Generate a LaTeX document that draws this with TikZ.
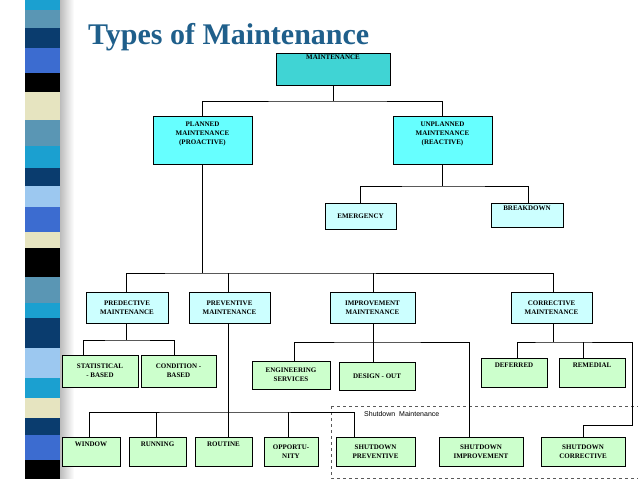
\documentclass[tikz,border=0pt]{standalone}
\usepackage{fontspec}
\setmainfont{Liberation Serif}
\newfontfamily\sansf{Liberation Sans}
\begin{document}
\begin{tikzpicture}[x=1pt,y=-1pt,
  box/.style={draw=black,line width=0.7pt,inner sep=1pt,align=center,font=\bfseries\fontsize{7}{9}\selectfont},
  conn/.style={line width=0.8pt}]
\definecolor{titleblue}{HTML}{1F5F8B}
\definecolor{tealc}{HTML}{40D4D4}
\definecolor{cyanc}{HTML}{66FFFF}
\definecolor{lcyan}{HTML}{CCFFFF}
\definecolor{lgreen}{HTML}{CCFFCC}
\useasboundingbox (0,0) rectangle (638,479);
\fill[white] (0,0) rectangle (638,479);
% stripe shadow
\shade[left color=gray!60,right color=white] (58,0) rectangle (74,479);
\foreach \a/\b/\c in {0/10/1BA0D0,10/28/5A96B4,28/48/0A3C6E,48/73/3C6CD0,73/92/000000,92/120/E6E4C0,120/146/5A96B4,146/168/1BA0D0,168/186/0A3C6E,186/207/9CC8F0,207/232/3C6CD0,232/248/E6E4C0,248/277/000000,277/303/5A96B4,303/318/1BA0D0,318/348/0A3C6E,348/378/9CC8F0,378/398/1BA0D0,398/418/E6E4C0,418/435/0A3C6E,435/460/3C6CD0,460/479/000000}{
  \definecolor{bandc}{HTML}{\c}
  \fill[bandc] (25,\a) rectangle (60,\b);
}
\node[anchor=base west,text=titleblue,font=\bfseries\fontsize{30}{32}\selectfont,inner sep=0pt] (title) at (88,45) {Types of Maintenance};
\newcommand\bx[7]{\node[box,fill=#6,minimum width={(#4-#2)*1pt},minimum height={(#5-#3)*1pt}] (#1) at ({(#2+#4)/2},{(#3+#5)/2}) {#7};}
\bx{m}{276}{53}{390}{85}{tealc}{MAINTENANCE\\[14pt]}
\bx{pl}{153}{116}{252}{164}{cyanc}{PLANNED\\MAINTENANCE\\(PROACTIVE)\\[4pt]}
\bx{un}{393}{116}{492}{164}{cyanc}{UNPLANNED\\MAINTENANCE\\(REACTIVE)\\[4pt]}
\bx{em}{325}{203}{396}{229}{lcyan}{EMERGENCY}
\bx{bd}{491}{203}{563}{227}{lcyan}{BREAKDOWN\\[4pt]}
\bx{pd}{86}{292}{168}{323}{lcyan}{PREDECTIVE\\MAINTENANCE}
\bx{pv}{189}{292}{270}{323}{lcyan}{PREVENTIVE\\MAINTENANCE}
\bx{im}{330}{292}{415}{323}{lcyan}{IMPROVEMENT\\MAINTENANCE}
\bx{co}{511}{292}{592}{323}{lcyan}{CORRECTIVE\\MAINTENANCE}
\bx{st}{62}{355}{138}{387}{lgreen}{STATISTICAL\\- BASED}
\bx{cb}{141}{355}{216}{387}{lgreen}{CONDITION -\\BASED}
\bx{es}{252}{361}{330}{389}{lgreen}{ENGINEERING\\SERVICES}
\bx{dout}{339}{362}{415}{390}{lgreen}{DESIGN - OUT}
\bx{df}{481}{358}{547}{387}{lgreen}{DEFERRED\\[6pt]}
\bx{rm}{559}{358}{625}{387}{lgreen}{REMEDIAL\\[6pt]}
\bx{wi}{62}{437}{120}{466}{lgreen}{WINDOW\\[5pt]}
\bx{ru}{129}{437}{186}{466}{lgreen}{RUNNING\\[5pt]}
\bx{ro}{195}{437}{252}{466}{lgreen}{ROUTINE\\[5pt]}
\bx{op}{264}{437}{318}{466}{lgreen}{OPPORTU-\\NITY}
\bx{sp}{336}{437}{415}{466}{lgreen}{SHUTDOWN\\PREVENTIVE}
\bx{si}{439}{437}{523}{466}{lgreen}{SHUTDOWN\\IMPROVEMENT}
\bx{sc}{541}{437}{625}{466}{lgreen}{SHUTDOWN\\CORRECTIVE}
% dashed frame
\draw[dashed,gray!70!black,line width=0.5pt] (331,406) -- (638,406) (331,406) -- (331,478) -- (638,478);
\node[anchor=west,font=\sansf\fontsize{7}{8}\selectfont,inner sep=0pt] (sl) at (364,414) {Shutdown\ \ Maintenance};
% connectors
\coordinate (j1) at (m.south |- 0,101);
\draw[conn] (m.south) -- (j1);
\draw[conn] (pl.north) |- (j1) -| (un.north);
\coordinate (j2) at (un.south |- 0,186);
\draw[conn] (un.south) -- (j2);
\draw[conn] (em.north -| 360,0) |- (j2) -| (bd.north -| 528,0);
\coordinate (j3) at (pl.south |- 0,273);
\draw[conn] (pl.south) -- (j3);
\draw[conn] (pd.north -| 126,0) |- (j3) -| (co.north -| 553,0);
\draw[conn] (pv.north -| 228,0) -- (228,273);
\draw[conn] (im.north -| 373,0) -- (373,273);
% predective
\draw[conn] (pd.south -| 126,0) -- (126,340);
\draw[conn] (st.north -| 83,0) |- (126,340) -| (cb.north -| 174,0);
% improvement
\draw[conn] (im.south -| 373,0) -- (dout.north -| 373,0);
\draw[conn] (es.north -| 294,0) |- (373,342) -| (si.north -| 469,0);
% corrective
\draw[conn] (co.south -| 553,0) -- (553,342);
\draw[conn] (df.north -| 517,0) |- (553,342) -- (632,342) -- (632,425) -| (sc.north -| 583,0);
\draw[conn] (rm.north -| 583,0) -- (583,342);
% preventive
\draw[conn] (pv.south -| 228,0) -- (ro.north -| 228,0);
\draw[conn] (wi.north -| 89,0) |- (228,412) -| (sp.north -| 354,0);
\draw[conn] (ru.north -| 156,0) -- (156,412);
\draw[conn] (op.north -| 288,0) -- (288,412);
\end{tikzpicture}
\end{document}
